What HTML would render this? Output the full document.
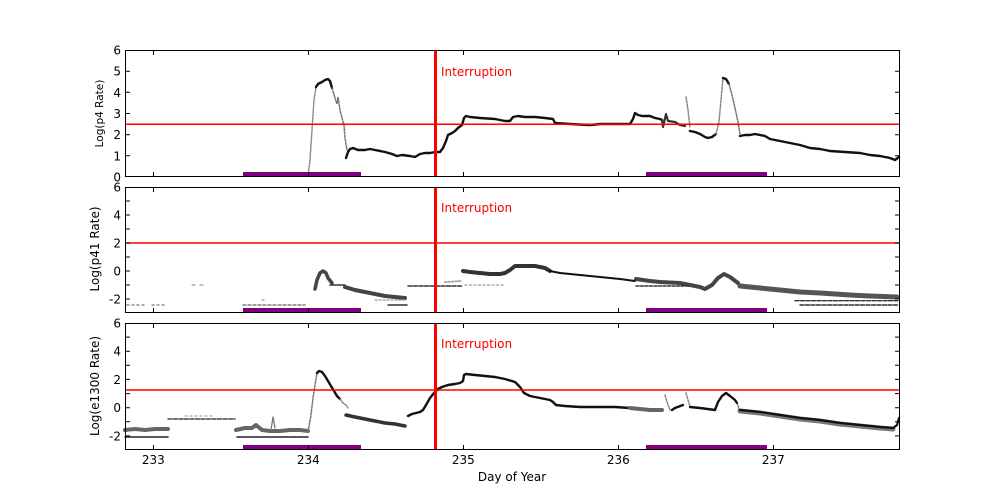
<!DOCTYPE html>
<html><head><meta charset="utf-8"><style>
html,body{margin:0;padding:0;background:#fff;}
svg{display:block;font-family:"DejaVu Sans","Liberation Sans",sans-serif;}
</style></head><body>
<svg width="1000" height="500" viewBox="0 0 1000 500" xmlns="http://www.w3.org/2000/svg">
<rect width="1000" height="500" fill="#fff"/>

<!-- ============ PANEL 1 ============ -->
<g fill="none" stroke-linejoin="round" stroke-linecap="round">
<polyline points="308,176 310,160 312,130 314,100 316,87" stroke="#888" stroke-width="1.5" stroke-dasharray="1.5 1.5"/>
<polyline points="316,87 318,84 322,82 325,80 328,79 330,81 332,88" stroke="#111" stroke-width="2.4"/>
<polyline points="332,88 335,98 337,104 338,97 340,110 342,118 344,125 345,138 347,150" stroke="#777" stroke-width="1.5" stroke-dasharray="2 1.5"/>
<polyline points="346,158 348,152 350,149 353,148 358,150 365,150 370,149 375,150 385,152 392,154 397,156 402,155 410,156 415,157 420,154 425,153 430,153 435,152 440,152 443,148 446,141 448,135 452,133 455,131 458,128 462,125 464,118 466,116 470,117 480,118 495,119 505,121 510,121 513,117 518,116 525,117 535,117 545,118 553,119 555,123 570,124 590,125 600,124 615,124 625,124 630,124 633,119 635,113 638,115 642,116 650,116 655,118 660,119 662,120" stroke="#111" stroke-width="2.4"/>
<polyline points="662,120 663,127 666,114 668,121 675,122 680,125 685,126" stroke="#333" stroke-width="2.2"/>
<polyline points="686,97 688,110 690,128" stroke="#888" stroke-width="1.5" stroke-dasharray="2 1.5"/>
<polyline points="690,131 695,132 700,134 705,137 708,138 712,137 716,134" stroke="#111" stroke-width="2.4"/>
<polyline points="716,134 719,122 721,100 723,78" stroke="#888" stroke-width="1.5" stroke-dasharray="2 1.5"/>
<polyline points="723,78 726,79 729,84" stroke="#111" stroke-width="2.4"/>
<polyline points="729,84 732,95 735,108 738,122 740,134" stroke="#777" stroke-width="1.5" stroke-dasharray="2 1.5"/>
<polyline points="740,136 745,135 750,135 755,134 760,135 765,136 770,139 780,141 790,143 800,145 810,148 820,149 830,151 845,152 860,153 870,155 880,156 885,157 890,158 895,160 899,157" stroke="#111" stroke-width="2.4"/>
</g>
<rect x="243" y="172" width="118" height="5" fill="#800080"/>
<rect x="646" y="172" width="121" height="5" fill="#800080"/>
<line x1="125" y1="124.3" x2="900" y2="124.3" stroke="#f00" stroke-width="1.5"/>
<line x1="435.5" y1="50" x2="435.5" y2="177" stroke="#f00" stroke-width="3"/>
<text x="441" y="76" font-size="12" fill="#f00">Interruption</text>

<!-- ============ PANEL 2 ============ -->
<g fill="none" stroke-linejoin="round" stroke-linecap="round">
<polyline points="127,305 147,305" stroke="#777" stroke-width="1.3" stroke-dasharray="2 3"/>
<polyline points="152,305 165,305" stroke="#777" stroke-width="1.3" stroke-dasharray="2 3"/>
<polyline points="192,285 195,285" stroke="#999" stroke-width="1.2"/>
<polyline points="200,285 203,285" stroke="#999" stroke-width="1.2"/>
<polyline points="243,305 305,305" stroke="#666" stroke-width="1.3" stroke-dasharray="3 2"/>
<polyline points="262,300 264,300 M282,300 284,300" stroke="#999" stroke-width="1.2"/>
<polyline points="315,289 317,280 320,273 323,271 326,273 328,278 332,283" stroke="#444" stroke-width="3.5"/>
<polyline points="330,285 345,285" stroke="#333" stroke-width="1.5" stroke-dasharray="3 1"/>
<polyline points="345,287 355,290 365,292 375,294 385,296 395,297 405,298" stroke="#444" stroke-width="4"/>
<polyline points="375,300 405,300" stroke="#999" stroke-width="1.2" stroke-dasharray="2 2"/>
<polyline points="388,305 407,305" stroke="#333" stroke-width="1.5"/>
<polyline points="408,286 463,286" stroke="#333" stroke-width="1.5" stroke-dasharray="4 1.5"/>
<polyline points="445,282 462,281" stroke="#aaa" stroke-width="2" stroke-dasharray="1.5 2"/>
<polyline points="465,285 505,285" stroke="#999" stroke-width="1.3" stroke-dasharray="2 2.5"/>
<polyline points="463,271 470,272 480,273 490,274 500,274 505,273 510,270 515,266 525,266 535,266 545,268 550,271" stroke="#333" stroke-width="4"/>
<polyline points="550,271 560,273 580,275 600,277 620,279 635,281" stroke="#111" stroke-width="2"/>
<polyline points="636,279 650,281 660,282 680,283 690,285 700,287 705,289 712,285 718,278 724,274 730,277 738,283" stroke="#444" stroke-width="4"/>
<polyline points="636,286 690,286" stroke="#333" stroke-width="1.4" stroke-dasharray="3 1.5"/>
<polyline points="740,286 760,288 780,290 800,292 820,293 850,295 870,296 897,297" stroke="#555" stroke-width="5"/>
<polyline points="795,300.7 898,300.7" stroke="#333" stroke-width="1.4" stroke-dasharray="4 1.5"/>
<polyline points="800,305 898,305" stroke="#333" stroke-width="1.4" stroke-dasharray="4 1.5"/>
</g>
<rect x="243" y="308" width="118" height="5" fill="#800080"/>
<rect x="646" y="308" width="121" height="5" fill="#800080"/>
<line x1="125" y1="243" x2="900" y2="243" stroke="#f00" stroke-width="1.5"/>
<line x1="435.5" y1="187" x2="435.5" y2="313" stroke="#f00" stroke-width="3"/>
<text x="441" y="212" font-size="12" fill="#f00">Interruption</text>

<!-- ============ PANEL 3 ============ -->
<g fill="none" stroke-linejoin="round" stroke-linecap="round">
<polyline points="125,430 135,429 145,430 155,429 168,429" stroke="#666" stroke-width="4"/>
<polyline points="125,437 168,437" stroke="#222" stroke-width="1.6"/>
<polyline points="168,419 235,419" stroke="#444" stroke-width="1.4" stroke-dasharray="4 1.5"/>
<polyline points="185,416 215,416" stroke="#aaa" stroke-width="1.2" stroke-dasharray="2 3"/>
<polyline points="236,430 245,428 252,428 256,425 262,430 270,431 280,431 290,430 300,430 308,431" stroke="#666" stroke-width="4"/>
<polyline points="271,430 273,417 275,428" stroke="#777" stroke-width="1.3"/>
<polyline points="237,437 308,437" stroke="#222" stroke-width="1.6"/>
<polyline points="308,432 311,415 313,398 315,385 317,373" stroke="#777" stroke-width="1.5" stroke-dasharray="2 1.5"/>
<polyline points="317,373 319,371 322,372 325,376 328,381 331,386 334,391 337,396 340,399" stroke="#111" stroke-width="2.4"/>
<polyline points="340,399 343,403 346,405 348,408" stroke="#888" stroke-width="1.5" stroke-dasharray="2 1.5"/>
<polyline points="346,415 355,417 365,419 375,421 385,423 395,424 405,426" stroke="#333" stroke-width="3.5"/>
<polyline points="408,416 412,414 420,412 423,410 426,405 430,398 434,393 438,389 442,387 448,385 455,384 460,383 463,381 464,375 466,374 475,375 485,376 495,377 505,379 515,382 520,387 524,393 530,396 540,398 550,400 553,402 556,405 565,406 580,407 600,407 615,407 630,408" stroke="#111" stroke-width="2.4"/>
<polyline points="630,408 640,409 650,410 662,410" stroke="#666" stroke-width="4"/>
<polyline points="665,395 667,402 670,410" stroke="#888" stroke-width="1.5" stroke-dasharray="2 1.5"/>
<polyline points="672,410 675,408 683,405" stroke="#111" stroke-width="2.4"/>
<polyline points="686,393 688,400 690,406" stroke="#888" stroke-width="1.5" stroke-dasharray="2 1.5"/>
<polyline points="690,407 700,408 715,410 718,402 722,396 726,393 730,396 735,400 737,403" stroke="#111" stroke-width="2.4"/>
<polyline points="738,405 739,410" stroke="#888" stroke-width="1.5"/>
<polyline points="740,411 760,413 780,416 800,419 820,421 840,424 860,426 880,428 893,429" stroke="#777" stroke-width="5"/>
<polyline points="740,410 750,411 760,412 780,415 800,418 820,420 840,423 860,425 880,427 893,428 897,425 899,418" stroke="#111" stroke-width="2.2"/>
</g>
<rect x="243" y="445" width="118" height="5" fill="#800080"/>
<rect x="646" y="445" width="121" height="5" fill="#800080"/>
<line x1="125" y1="390" x2="900" y2="390" stroke="#f00" stroke-width="1.5"/>
<line x1="435.5" y1="323" x2="435.5" y2="450" stroke="#f00" stroke-width="3"/>
<text x="441" y="348" font-size="12" fill="#f00">Interruption</text>

<!-- ============ FRAMES & TICKS ============ -->
<g fill="none" stroke="#000" stroke-width="1">
<rect x="125.5" y="50.5" width="774" height="126"/>
<rect x="125.5" y="187.5" width="774" height="125"/>
<rect x="125.5" y="323.5" width="774" height="126"/>
<path d="M153.5,50V55M308.5,50V55M463.5,50V55M618.5,50V55M773.5,50V55
M153.5,177V172M308.5,177V172M463.5,177V172M618.5,177V172M773.5,177V172
M153.5,187V192M308.5,187V192M463.5,187V192M618.5,187V192M773.5,187V192
M153.5,313V308M308.5,313V308M463.5,313V308M618.5,313V308M773.5,313V308
M153.5,323V328M308.5,323V328M463.5,323V328M618.5,323V328M773.5,323V328
M153.5,450V445M308.5,450V445M463.5,450V445M618.5,450V445M773.5,450V445"/>
<path d="M125,155.8h5M125,134.7h5M125,113.5h5M125,92.3h5M125,71.2h5
M900,155.8h-5M900,134.7h-5M900,113.5h-5M900,92.3h-5M900,71.2h-5"/>
<path d="M125,299h5M125,285h5M125,271h5M125,257h5M125,243h5M125,229h5M125,215h5M125,201h5
M900,299h-5M900,285h-5M900,271h-5M900,257h-5M900,243h-5M900,229h-5M900,215h-5M900,201h-5"/>
<path d="M125,435.9h5M125,421.8h5M125,407.7h5M125,393.6h5M125,379.4h5M125,365.3h5M125,351.2h5M125,337.1h5
M900,435.9h-5M900,421.8h-5M900,407.7h-5M900,393.6h-5M900,379.4h-5M900,365.3h-5M900,351.2h-5M900,337.1h-5"/>
</g>

<!-- ============ LABELS ============ -->
<g font-size="12" fill="#000" text-anchor="end">
<text x="121" y="54.5">6</text>
<text x="121" y="75.7">5</text>
<text x="121" y="96.8">4</text>
<text x="121" y="118">3</text>
<text x="121" y="139.2">2</text>
<text x="121" y="160.3">1</text>
<text x="121" y="181.5">0</text>

<text x="121" y="191.5">6</text>
<text x="121" y="219.5">4</text>
<text x="121" y="247.5">2</text>
<text x="121" y="275.5">0</text>
<text x="121" y="303.5">-2</text>

<text x="121" y="327.5">6</text>
<text x="121" y="355.7">4</text>
<text x="121" y="383.9">2</text>
<text x="121" y="412.2">0</text>
<text x="121" y="440.4">-2</text>
</g>
<g font-size="12" fill="#000" text-anchor="middle">
<text x="153.3" y="464">233</text>
<text x="308.3" y="464">234</text>
<text x="463.3" y="464">235</text>
<text x="618.3" y="464">236</text>
<text x="773.3" y="464">237</text>
<text x="512" y="481">Day of Year</text>
<text x="0" y="0" font-size="10.5" transform="translate(103,113.5) rotate(-90)">Log(p4 Rate)</text>
<text x="0" y="0" transform="translate(99,249) rotate(-90)">Log(p41 Rate)</text>
<text x="0" y="0" transform="translate(99,386) rotate(-90)">Log(e1300 Rate)</text>
</g>
</svg>
</body></html>
